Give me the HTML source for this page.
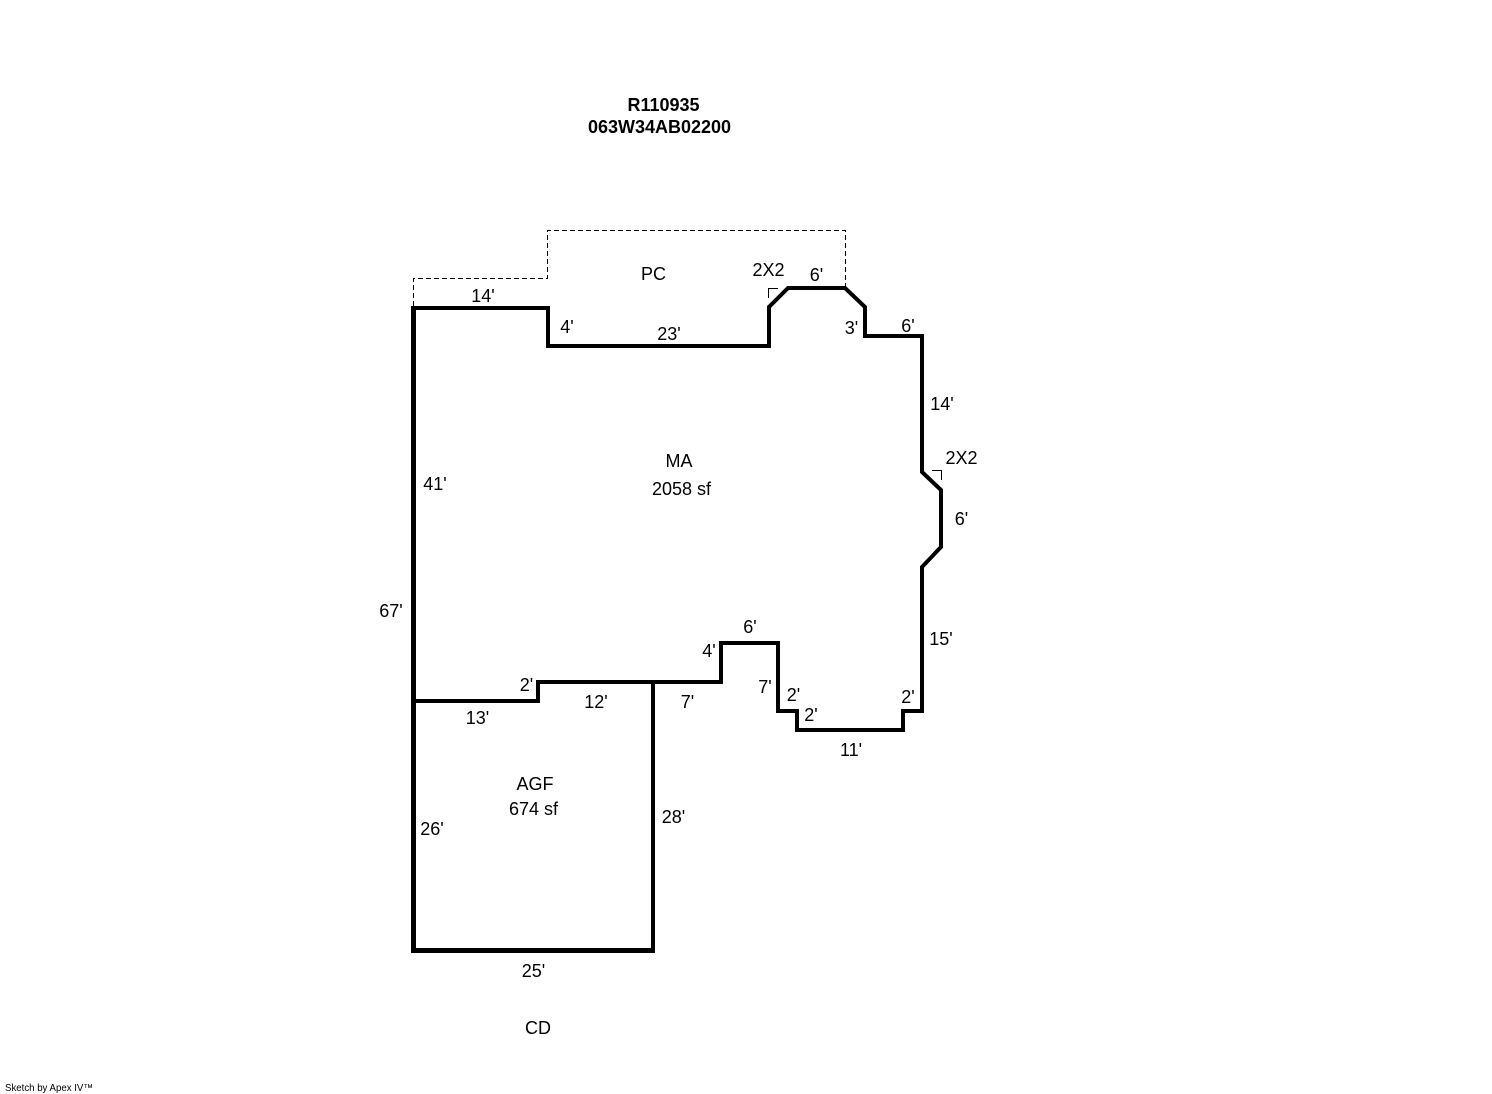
<!DOCTYPE html>
<html>
<head>
<meta charset="utf-8">
<style>
html,body{margin:0;padding:0;background:#fff;}
svg{display:block;}
text{font-family:"Liberation Sans",sans-serif;font-size:18px;fill:#000;text-anchor:middle;}
.b{font-weight:bold;}
.t{font-size:10px;text-anchor:start;}
</style>
</head>
<body>
<svg width="1492" height="1094" viewBox="0 0 1492 1094" xmlns="http://www.w3.org/2000/svg">
<rect width="1492" height="1094" fill="#fff"/>
<g fill="none" stroke="#000" stroke-width="1" stroke-dasharray="5 3" shape-rendering="crispEdges">
<path d="M413.5 306V278.5H547.5V230.5H845.5V288"/>
</g>
<g fill="none" stroke="#000" stroke-width="1" shape-rendering="crispEdges">
<path d="M768.5 298V288.5H778"/>
<path d="M932 470.5H941.5V480"/>
</g>
<g fill="none" stroke="#000" stroke-width="4" stroke-linejoin="miter">
<path d="M414 308H548V346H769V307L788 288H845L865 307V336H922V472L941 490V547L922 567V711H903V730H797V711H778V643H721V682H538V701H414"/>
<path d="M653 682V950"/>
</g>
<path d="M413.5 306V950.5H655" fill="none" stroke="#000" stroke-width="5"/>
<text class="b" x="663.5" y="111">R110935</text>
<text class="b" x="659.5" y="133">063W34AB02200</text>
<text x="653.5" y="280">PC</text>
<text x="768.5" y="276">2X2</text>
<text x="816.5" y="281">6'</text>
<text x="483" y="302">14'</text>
<text x="567" y="333">4'</text>
<text x="669" y="340">23'</text>
<text x="851.5" y="334">3'</text>
<text x="908" y="332">6'</text>
<text x="942" y="410">14'</text>
<text x="961.5" y="464">2X2</text>
<text x="961.5" y="525">6'</text>
<text x="679" y="467">MA</text>
<text x="681.5" y="495">2058 sf</text>
<text x="435" y="490">41'</text>
<text x="391" y="617">67'</text>
<text x="941" y="645">15'</text>
<text x="750" y="633">6'</text>
<text x="709" y="657">4'</text>
<text x="765" y="693">7'</text>
<text x="793.5" y="701">2'</text>
<text x="811" y="721">2'</text>
<text x="908" y="703">2'</text>
<text x="851" y="756">11'</text>
<text x="687.5" y="708">7'</text>
<text x="526.5" y="691">2'</text>
<text x="596" y="708">12'</text>
<text x="477.5" y="724">13'</text>
<text x="535" y="790">AGF</text>
<text x="533.5" y="815">674 sf</text>
<text x="432" y="835">26'</text>
<text x="673.5" y="823">28'</text>
<text x="533.5" y="977">25'</text>
<text x="538" y="1034">CD</text>
<text class="t" x="5" y="1091" textLength="88" lengthAdjust="spacingAndGlyphs">Sketch by Apex IV™</text>
</svg>
</body>
</html>
